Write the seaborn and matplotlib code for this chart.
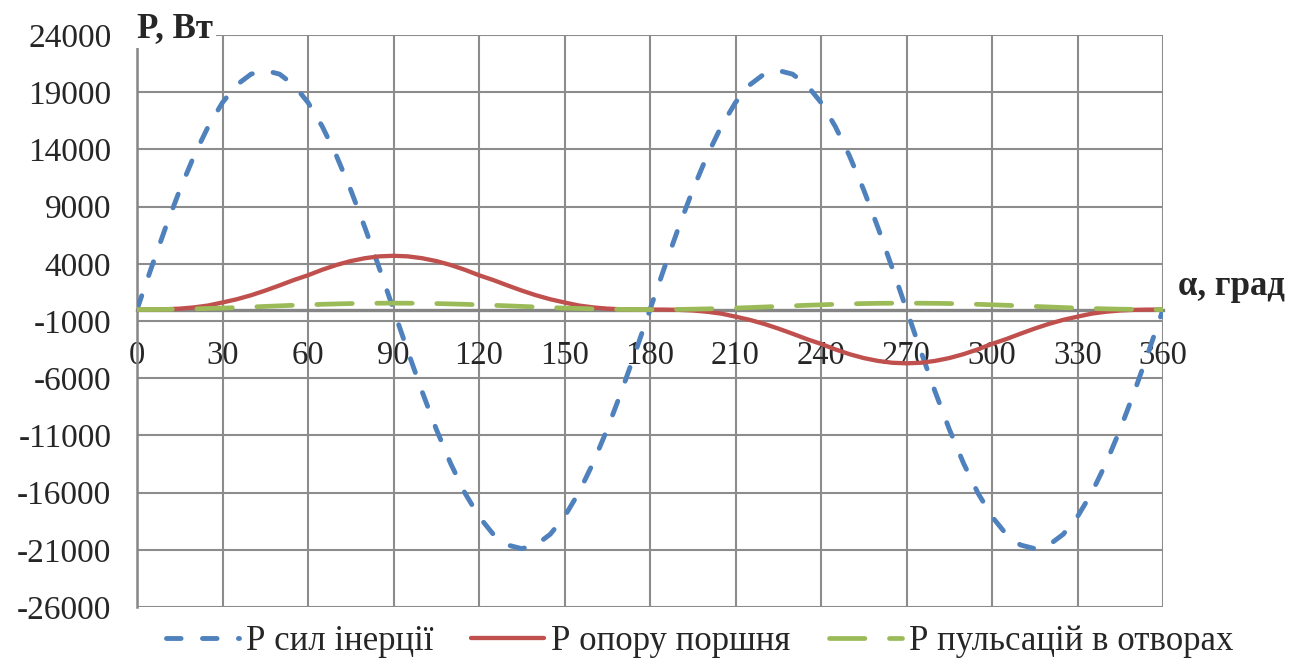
import numpy as np
import pandas as pd
import seaborn as sns
import matplotlib.pyplot as plt

# кут повороту, град (крок 5)
alpha = list(range(0, 361, 5))

# P сил інерції, Вт
p_inertia = [0, 3630, 7150, 10450, 13430, 16010, 18100, 19640, 20580, 20900,
             20580, 19640, 18100, 16010, 13430, 10450, 7150, 3630, 0,
             -3630, -7150, -10450, -13430, -16010, -18100, -19640, -20580, -20900,
             -20580, -19640, -18100, -16010, -13430, -10450, -7150, -3630, 0,
             3630, 7150, 10450, 13430, 16010, 18100, 19640, 20580, 20900,
             20580, 19640, 18100, 16010, 13430, 10450, 7150, 3630, 0,
             -3630, -7150, -10450, -13430, -16010, -18100, -19640, -20580, -20900,
             -20580, -19640, -18100, -16010, -13430, -10450, -7150, -3630, 0]

# P опору поршня, Вт
p_piston = [0, 3, 25, 80, 190, 355, 620, 900, 1250, 1660,
            2110, 2580, 3000, 3480, 3900, 4240, 4490, 4650, 4700,
            4650, 4490, 4240, 3900, 3480, 3000, 2580, 2110, 1660,
            1250, 900, 620, 355, 190, 80, 25, 3, 0,
            -3, -25, -80, -190, -355, -620, -900, -1250, -1660,
            -2110, -2580, -3000, -3480, -3900, -4240, -4490, -4650, -4700,
            -4650, -4490, -4240, -3900, -3480, -3000, -2580, -2110, -1660,
            -1250, -900, -620, -355, -190, -80, -25, -3, 0]

# P пульсацій в отворах, Вт
p_pulse = [0, 4, 15, 33, 60, 95, 130, 175, 225, 275,
           325, 375, 415, 460, 495, 525, 545, 555, 560,
           555, 545, 525, 495, 460, 415, 375, 325, 275,
           225, 175, 130, 95, 60, 33, 15, 4, 0,
           4, 15, 33, 60, 95, 130, 175, 225, 275,
           325, 375, 415, 460, 495, 525, 545, 555, 560,
           555, 545, 525, 495, 460, 415, 375, 325, 275,
           225, 175, 130, 95, 60, 33, 15, 4, 0]

names = ['Р сил інерції', 'Р опору поршня', 'Р пульсацій в отворах']
colors = ['#4F81BD', '#C0504D', '#9BBB59']
y_ticks = [-26000, -21000, -16000, -11000, -6000, -1000, 4000, 9000, 14000, 19000, 24000]
x_ticks = [0, 30, 60, 90, 120, 150, 180, 210, 240, 270, 300, 330, 360]

df = pd.DataFrame({'alpha': alpha * 3,
                   'P': p_inertia + p_piston + p_pulse,
                   'series': np.repeat(names, len(alpha))})

sns.set_style('white')
plt.rcParams['font.family'] = ['Liberation Serif', 'DejaVu Serif']
plt.rcParams['axes.unicode_minus'] = False

fig = plt.figure(figsize=(13, 6.63), dpi=100)
ax = fig.add_axes([137 / 1300, 56 / 663, 1026 / 1300, 572 / 663])

styles = [dict(lw=3.5, dashes=(3.0, 4.4)),
          dict(lw=3.1, dashes=None),
          dict(lw=3.4, dashes=(7.5, 5.2))]

for name, col, st in zip(names, colors, styles):
    sub = df[df['series'] == name]
    sns.lineplot(data=sub, x='alpha', y='P', color=col, linewidth=st['lw'],
                 ax=ax, label=name, zorder=3, legend=False)
    ln = ax.lines[-1]
    if st['dashes'] is not None:
        ln.set_dashes(st['dashes'])
        ln.set_dash_capstyle('round')
    ln.set_solid_capstyle('round')

ax.set_xlim(0, 360)
ax.set_ylim(-26000, 24000)
ax.set_xticks(x_ticks, labels=[str(v) for v in x_ticks])
ax.set_yticks(y_ticks, labels=[str(v) for v in y_ticks])
ax.set_xlabel('')
ax.set_ylabel('')

ax.grid(True, color='#8C8C8C', lw=1.5)
ax.set_axisbelow(True)
for s in ['top', 'right']:
    ax.spines[s].set_visible(False)
ax.spines['bottom'].set_position(('data', 0))
ax.spines['bottom'].set_color('#868686')
ax.spines['bottom'].set_linewidth(2.4)
ax.spines['left'].set_color('#868686')
ax.spines['left'].set_linewidth(1.8)

ax.tick_params(axis='x', length=0, pad=22, labelsize=23.5)
ax.tick_params(axis='y', length=6.5, width=1.5, color='#868686', pad=12, labelsize=24, direction='out')

fig.text(0.1054, 1 - 37 / 663, 'P, Вт', fontsize=25, fontweight='bold', va='baseline', ha='left',
         bbox=dict(facecolor='white', edgecolor='none', pad=2))
fig.text(1178 / 1300, 1 - 295 / 663, 'α, град', fontsize=25, fontweight='bold', va='baseline', ha='left')

handles, labels = ax.get_legend_handles_labels()
leg = fig.legend(handles, labels, loc='center', bbox_to_anchor=(0.538, 0.032), ncol=3,
                 frameon=False, fontsize=25, handlelength=2.1, handletextpad=0.2,
                 columnspacing=1.1)
for h, st in zip(leg.get_lines(), styles):
    h.set_linewidth(st['lw'])
    if st['dashes'] is not None:
        h.set_dashes(st['dashes'])
        h.set_dash_capstyle('round')

fig.savefig('out.png', dpi=100)
